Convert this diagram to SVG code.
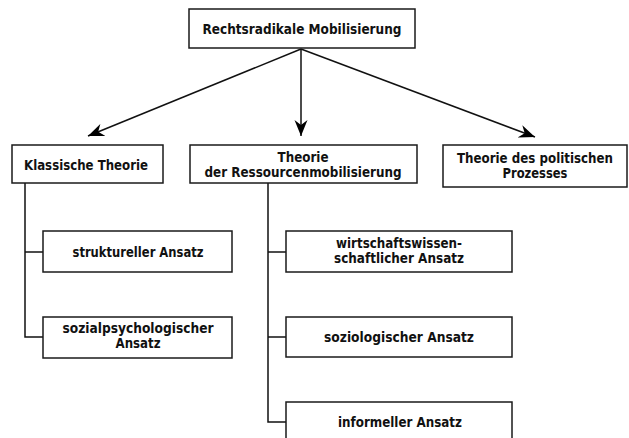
<svg xmlns="http://www.w3.org/2000/svg" width="629" height="438" viewBox="0 0 629 438">
<style>
.box{fill:#fff;stroke:#1a1a1a;stroke-width:1.5}
.t{font-family:"Liberation Sans Narrow","DejaVu Sans Condensed","Liberation Sans",sans-serif;font-weight:bold;font-size:14.5px;fill:#111;text-anchor:middle}
.ln{fill:none;stroke:#111;stroke-width:1.5}
</style>
<defs>
<marker id="ah" viewBox="-16 -7 17 14" refX="0" refY="0" markerWidth="17" markerHeight="14" markerUnits="userSpaceOnUse" orient="auto">
<path d="M0,0 L-16,-6.5 L-11,0 L-16,6.5 Z" fill="#000"/>
</marker>
</defs>
<g id="connectors">
<line class="ln" x1="301" y1="49" x2="88" y2="136" marker-end="url(#ah)"/>
<line class="ln" x1="301" y1="49" x2="301" y2="136" marker-end="url(#ah)"/>
<line class="ln" x1="301" y1="49" x2="535" y2="137" marker-end="url(#ah)"/>
<polyline class="ln" points="25,183 25,337 43,337"/>
<line class="ln" x1="25" y1="252" x2="43" y2="252"/>
<polyline class="ln" points="268,183 268,422 286,422"/>
<line class="ln" x1="268" y1="252" x2="286" y2="252"/>
<line class="ln" x1="268" y1="337" x2="286" y2="337"/>
</g>
<g id="root">
<rect class="box" x="189" y="9" width="226" height="39"/>
<text class="t" x="302" y="34" textLength="199" lengthAdjust="spacingAndGlyphs">Rechtsradikale Mobilisierung</text>
</g>
<g id="klassisch">
<rect class="box" x="12" y="145" width="151" height="38"/>
<text class="t" x="86" y="170" textLength="124" lengthAdjust="spacingAndGlyphs">Klassische Theorie</text>
</g>
<g id="ressourcen">
<rect class="box" x="190" y="145" width="227" height="38"/>
<text class="t" x="303" y="162" textLength="51" lengthAdjust="spacingAndGlyphs">Theorie</text>
<text class="t" x="303" y="177" textLength="197" lengthAdjust="spacingAndGlyphs">der Ressourcenmobilisierung</text>
</g>
<g id="politisch">
<rect class="box" x="443" y="145" width="184" height="42"/>
<text class="t" x="535" y="163" textLength="156" lengthAdjust="spacingAndGlyphs">Theorie des politischen</text>
<text class="t" x="535" y="178" textLength="65" lengthAdjust="spacingAndGlyphs">Prozesses</text>
</g>
<g id="strukturell">
<rect class="box" x="43" y="231" width="189" height="41"/>
<text class="t" x="138" y="257" textLength="131" lengthAdjust="spacingAndGlyphs">struktureller Ansatz</text>
</g>
<g id="sozialpsych">
<rect class="box" x="43" y="317" width="189" height="41"/>
<text class="t" x="138" y="333" textLength="151" lengthAdjust="spacingAndGlyphs">sozialpsychologischer</text>
<text class="t" x="138" y="348" textLength="45" lengthAdjust="spacingAndGlyphs">Ansatz</text>
</g>
<g id="wirtschaft">
<rect class="box" x="286" y="231" width="226" height="41"/>
<text class="t" x="399" y="248" textLength="126" lengthAdjust="spacingAndGlyphs">wirtschaftswissen-</text>
<text class="t" x="399" y="263" textLength="130" lengthAdjust="spacingAndGlyphs">schaftlicher Ansatz</text>
</g>
<g id="soziologisch">
<rect class="box" x="286" y="317" width="226" height="40"/>
<text class="t" x="399" y="342" textLength="150" lengthAdjust="spacingAndGlyphs">soziologischer Ansatz</text>
</g>
<g id="informell">
<rect class="box" x="286" y="402" width="226" height="50"/>
<text class="t" x="400" y="427" textLength="124" lengthAdjust="spacingAndGlyphs">informeller Ansatz</text>
</g>
</svg>
